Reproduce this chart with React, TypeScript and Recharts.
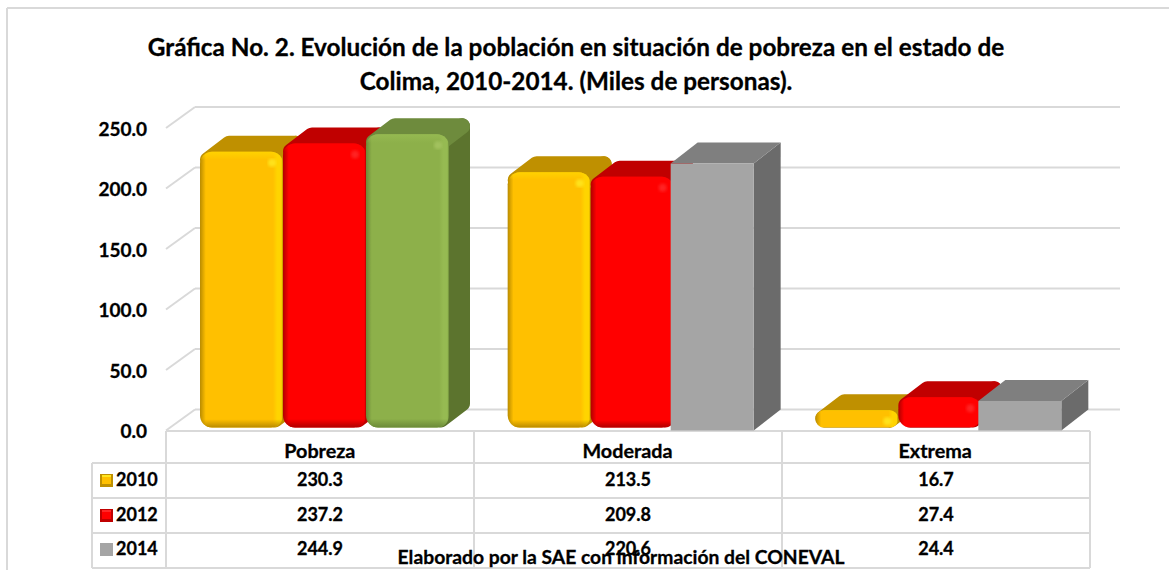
import { BarChart, Bar, Cell, XAxis, YAxis, CartesianGrid } from 'recharts'

const categories = ['Pobreza', 'Moderada', 'Extrema']
const years = ['2010', '2012', '2014']
const values2010 = [230.3, 213.5, 16.7]
const values2012 = [237.2, 209.8, 27.4]
const values2014 = [244.9, 220.6, 24.4]
const yTicks = [0, 50, 100, 150, 200, 250]
const titleLines = [
  'Gráfica No. 2. Evolución de la población en situación de pobreza en el estado de',
  'Colima, 2010-2014. (Miles de personas).',
]
const sourceNote = 'Elaborado por la SAE con información del CONEVAL'

const YELLOW = '#FFC000'
const RED = '#FF0000'
const GREEN = '#8DB04A'
const GRAY = '#A5A5A5'
const GRID = '#D9D9D9'
const FONT = 'Lato, Carlito, sans-serif'

const tableData = categories.map((category, i) => ({
  category,
  y2010: values2010[i],
  y2012: values2012[i],
  y2014: values2014[i],
}))
const rows = [values2010, values2012, values2014]

// face colours for the fake 3d boxes
const faces: Record<string, any> = {
  [YELLOW]: { id: 'y', top: '#BF9000', side: '#BF9000', edge: '#B98B00', light: '#FFD400', spot: '#FFFF33' },
  [RED]: { id: 'r', top: '#C00000', side: '#C00000', edge: '#B00000', light: '#FF0000', spot: '#FF4040' },
  [GREEN]: { id: 'g', top: '#6E8B3D', side: '#5C742E', edge: '#6B8A38', light: '#96BA52', spot: '#B4D070' },
}

function Box3D(props: any) {
  const { y, width, height, fill } = props
  const f = faces[fill]
  if (!f) {
    // flat grey box, sits a bit further left than the rounded ones
    const x = props.x - 3
    const dx = 27
    const dy = 21
    const b = y + height
    return (
      <g>
        <polygon points={`${x + width},${y} ${x + width + dx},${y - dy} ${x + width + dx},${b - dy} ${x + width},${b}`} fill="#6B6B6B" />
        <polygon points={`${x},${y} ${x + dx},${y - dy} ${x + width + dx},${y - dy} ${x + width},${y}`} fill="#7F7F7F" />
        <rect x={x} y={y} width={width} height={height} fill={fill} />
      </g>
    )
  }
  const x = props.x
  const dx = 21
  const dy = 16
  const b = y + height - 3
  const h = b - y
  const r = Math.min(12, h / 2)
  const rt = Math.min(8, h / 2)
  return (
    <g>
      <polygon
        points={`${x + width - rt},${y + rt} ${x + width + dx - rt},${y - dy + rt} ${x + width + dx - rt},${b - dy - rt} ${x + width - rt},${b - rt}`}
        fill={f.side}
        stroke={f.side}
        strokeWidth={rt * 2}
        strokeLinejoin="round"
      />
      <polygon
        points={`${x + rt},${y + rt} ${x + dx + rt},${y - dy + rt} ${x + width + dx - rt},${y - dy + rt} ${x + width - rt},${y + rt}`}
        fill={f.top}
        stroke={f.top}
        strokeWidth={rt * 2}
        strokeLinejoin="round"
      />
      <rect x={x} y={y} width={width} height={h} rx={r} fill={`url(#h-${f.id})`} />
      <rect x={x} y={y} width={width} height={h} rx={r} fill={`url(#v-${f.id})`} />
      <circle cx={x + width - 11} cy={y + 11} r={4} fill={f.spot} opacity={0.55} filter="url(#soft)" />
    </g>
  )
}

function BevelDefs() {
  return (
    <defs>
      <filter id="soft">
        <feGaussianBlur stdDeviation="1.5" />
      </filter>
      {[YELLOW, RED, GREEN].map((c) => (
        <g key={c}>
          <linearGradient id={`h-${faces[c].id}`} x1="0" x2="1" y1="0" y2="0">
            <stop offset="0" stopColor={faces[c].edge} />
            <stop offset="0.07" stopColor={c} />
            <stop offset="0.88" stopColor={c} />
            <stop offset="0.93" stopColor={faces[c].light} />
            <stop offset="0.98" stopColor={faces[c].light} />
            <stop offset="1" stopColor={faces[c].edge} />
          </linearGradient>
          <linearGradient id={`v-${faces[c].id}`} gradientUnits="objectBoundingBox" x1="0" x2="0" y1="0" y2="1">
            <stop offset="0" stopColor={faces[c].light} stopOpacity={0.9} />
            <stop offset="0.03" stopColor={faces[c].light} stopOpacity={0} />
            <stop offset="0.97" stopColor={faces[c].edge} stopOpacity={0} />
            <stop offset="1" stopColor={faces[c].edge} stopOpacity={1} />
          </linearGradient>
        </g>
      ))}
    </defs>
  )
}

// back wall line plus the little diagonal going to the axis
function GridLine(props: any) {
  const { y1 } = props
  return (
    <g key={props.key}>
      <line x1={195} y1={y1 - 21} x2={1120} y2={y1 - 21} stroke={GRID} strokeWidth={2} />
      <line x1={166} y1={y1} x2={195} y2={y1 - 21} stroke={GRID} strokeWidth={2} />
    </g>
  )
}

const textBold = { fontFamily: FONT, fontWeight: 700, fill: '#000', stroke: '#000', strokeWidth: 0.3 }
const lineYs = [431, 463, 498, 533, 568]
const colXs = [166, 474, 782, 1090]
const rowTextYs = [480, 515, 549]

function LegendKey({ y, color }: { y: number; color: string }) {
  if (color === GRAY) return <rect x={100} y={y - 6} width={13} height={13} fill={GRAY} />
  const f = faces[color]
  return (
    <g>
      <rect x={100} y={y - 6} width={13} height={13} fill={f.top} />
      <rect x={102} y={y - 5} width={9} height={9} fill={color} />
      <rect x={102} y={y - 5} width={9} height={2} fill={f.spot} opacity={0.6} />
    </g>
  )
}

function TableOverlay() {
  return (
    <svg width={1169} height={570} style={{ position: 'absolute', left: 0, top: 0 }}>
      {/* frame */}
      <line x1={7} y1={8} x2={7} y2={570} stroke={GRID} strokeWidth={2} />
      <line x1={7} y1={8} x2={1169} y2={8} stroke={GRID} strokeWidth={2} />
      {titleLines.map((t, i) => (
        <text key={t} x={576} y={55.5 + i * 34} textAnchor="middle" fontSize={24.3} style={textBold}>
          {t}
        </text>
      ))}
      {lineYs.map((y, i) => (
        <line key={y} x1={i === 0 ? 166 : 92} y1={y} x2={1090} y2={y} stroke={GRID} strokeWidth={2} />
      ))}
      <line x1={92} y1={463} x2={92} y2={568} stroke={GRID} strokeWidth={2} />
      {colXs.map((x) => (
        <line key={x} x1={x} y1={431} x2={x} y2={568} stroke={GRID} strokeWidth={2} />
      ))}
      {years.map((year, i) => (
        <g key={year}>
          <LegendKey y={rowTextYs[i]} color={[YELLOW, RED, GRAY][i]} />
          <text x={116} y={rowTextYs[i] + 6} fontSize={18} style={textBold}>
            {year}
          </text>
          {rows[i].map((v, j) => (
            <text key={j} x={(colXs[j] + colXs[j + 1]) / 2} y={rowTextYs[i] + 6} fontSize={18} textAnchor="middle" style={textBold}>
              {v.toFixed(1)}
            </text>
          ))}
        </g>
      ))}
      <text x={621} y={564} fontSize={19.3} textAnchor="middle" style={textBold}>
        {sourceNote}
      </text>
    </svg>
  )
}

export default function App() {
  return (
    <div style={{ position: 'absolute', left: 0, top: 0, width: 1169, height: 570, background: '#fff', overflow: 'hidden' }}>
      <TableOverlay />
      <div style={{ position: 'absolute', left: 0, top: 0 }}>
        <BarChart
          width={1169}
          height={570}
          data={tableData}
          margin={{ top: 128, right: 75, bottom: 0, left: 0 }}
          barCategoryGap={30}
          barGap={0}
          barSize={83}
        >
          <BevelDefs />
          <CartesianGrid vertical={false} horizontal={GridLine} />
          <XAxis
            dataKey="category"
            height={139.5}
            axisLine={false}
            tickLine={false}
            tickMargin={7}
            tick={{ fontFamily: FONT, fontWeight: 700, fontSize: 19.8, fill: '#000', stroke: '#000', strokeWidth: 0.3, dx: -5 }}
          />
          <YAxis
            width={171}
            domain={[0, 250]}
            ticks={yTicks}
            axisLine={false}
            tickLine={false}
            tickMargin={18}
            tickFormatter={(v: number) => v.toFixed(1)}
            tick={{ fontFamily: FONT, fontWeight: 700, fontSize: 19, fill: '#000', stroke: '#000', strokeWidth: 0.3, dy: 1 }}
          />
          <Bar dataKey="y2010" fill={YELLOW} shape={Box3D} isAnimationActive={false} />
          <Bar dataKey="y2012" fill={RED} shape={Box3D} isAnimationActive={false} />
          <Bar dataKey="y2014" fill={GRAY} shape={Box3D} isAnimationActive={false}>
            <Cell fill={GREEN} />
            <Cell fill={GRAY} />
            <Cell fill={GRAY} />
          </Bar>
        </BarChart>
      </div>
    </div>
  )
}
